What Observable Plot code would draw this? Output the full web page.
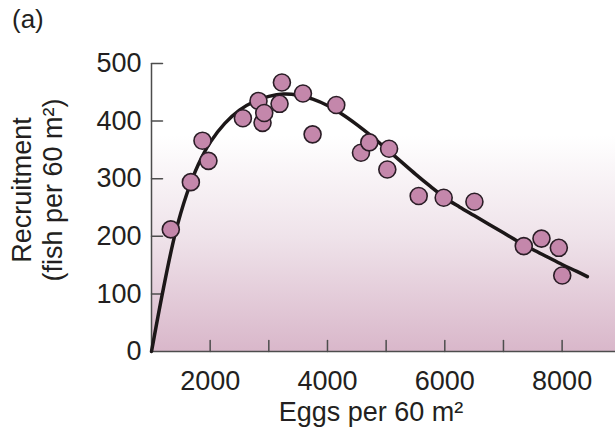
<!DOCTYPE html>
<html><head><meta charset="utf-8">
<script src="https://cdn.jsdelivr.net/npm/d3@7"></script>
<script src="https://cdn.jsdelivr.net/npm/@observablehq/plot@0.6"></script>
<style>
html,body{margin:0;padding:0;background:#fff;}
#wrap{position:relative;width:615px;height:434px;font-family:"Liberation Sans",Arial,sans-serif;color:#231f20;}
.lbl{position:absolute;white-space:nowrap;font-size:27px;line-height:27px;}
#wrap svg{position:absolute;left:0;top:0;}
</style></head><body>
<div id="wrap"></div>
<script>
// Observed data (eggs per 60 m², recruits per 60 m²)
const eggs     = [1329, 1671, 1869, 1971, 2558, 2824, 2893, 2922, 3183, 3223, 3582, 3746, 4150, 4571, 4713, 5050, 5020, 5555, 5981, 6505, 7346, 7648, 7944, 8002];
const recruits = [ 212,  294,  366,  331,  405,  435,  397,  414,  430,  467,  448,  377,  428,  345,  363,  352,  316,  270,  267,  260,  183,  196,  180,  132];
// Fitted curve
const curveEggs     = [1000, 1200, 1400, 1600, 1800, 2000, 2250, 2500, 2750, 3000, 3250, 3500, 3750, 4000, 4250, 4500, 4750, 5000, 5250, 5500, 5750, 6000, 6250, 6500, 6750, 7000, 7250, 7500, 7750, 8000, 8250, 8430];
const curveRecruits = [   0,  108,  203,  273,  325,  363,  396,  419,  434,  443,  447,  445,  438,  427,  412,  394,  374,  352,  330,  308,  287,  267,  251,  236,  221,  206,  191,  177,  164,  151,  139,  130];
const xTicks = [2000, 3000, 4000, 5000, 6000, 7000, 8000];
const xTickLabels = [2000, 4000, 6000, 8000];
const yTicks = [0, 100, 200, 300, 400, 500];
const panelLabel = "(a)";
const xTitle = "Eggs per 60 m²";
const yTitleLines = ["Recruitment", "(fish per 60 m²)"];

const points = eggs.map((e, i) => ({e, r: recruits[i]}));
const curve = curveEggs.map((e, i) => ({e, r: curveRecruits[i]}));

const gradientDefs = () => {
  const defs = d3.create("svg:defs");
  const g = defs.append("linearGradient").attr("id", "bgfade")
    .attr("x1", 0).attr("y1", 0).attr("x2", 0).attr("y2", 1);
  g.append("stop").attr("offset", "0%").attr("stop-color", "#ffffff");
  g.append("stop").attr("offset", "25%").attr("stop-color", "#ffffff");
  g.append("stop").attr("offset", "60%").attr("stop-color", "#efe3ea");
  g.append("stop").attr("offset", "100%").attr("stop-color", "#d9b7ca");
  return defs.node();
};
const tickShape = {draw(context, l) { context.moveTo(0, 0); context.lineTo(0, -l); }};
const axisColor = "#4d4d4d";

const chart = Plot.plot({
  width: 615, height: 434,
  marginTop: 63, marginBottom: 83, marginLeft: 151, marginRight: 0,
  x: {domain: [1000, 8910]},
  y: {domain: [0, 500]},
  style: {fontFamily: "'Liberation Sans', Arial, sans-serif", fontSize: "27px", color: "#231f20", background: "transparent", overflow: "visible"},
  marks: [
    gradientDefs,
    Plot.frame({fill: "url(#bgfade)", stroke: null}),
    Plot.ruleY([0], {stroke: axisColor, strokeWidth: 1.5}),
    Plot.ruleX([1000], {y1: 0, y2: 500, stroke: axisColor, strokeWidth: 1.5}),
    Plot.vector(yTicks.slice(1), {x: 1000, y: d => d, length: 11, rotate: 90, anchor: "start", shape: tickShape, stroke: axisColor, strokeWidth: 1.5}),
    Plot.vector(xTicks, {x: d => d, y: 0, length: 11, rotate: 0, anchor: "start", shape: tickShape, stroke: axisColor, strokeWidth: 1.5}),
    Plot.axisY(yTicks, {tickSize: 0, tickPadding: 10, label: null, fontSize: 27, fill: "#231f20", tickFormat: d => String(d)}),
    Plot.axisX(xTickLabels, {tickSize: 0, tickPadding: 19, label: null, fontSize: 27, fill: "#231f20", tickFormat: d => String(d)}),
    Plot.line(curve, {x: "e", y: "r", curve: "catmull-rom", stroke: "#1c1718", strokeWidth: 3.5}),
    Plot.dot(points, {x: "e", y: "r", r: 8.5, fill: "#c487ab", stroke: "#2a1d26", strokeWidth: 1.6})
  ]
});

const wrap = document.getElementById("wrap");
wrap.appendChild(chart);

const a = document.createElement("div");
a.className = "lbl"; a.textContent = panelLabel;
a.style.left = "12px"; a.style.top = "6px"; a.style.fontSize = "26px";
wrap.appendChild(a);

const xt = document.createElement("div");
xt.className = "lbl"; xt.textContent = xTitle;
xt.style.left = (371 - 150) + "px"; xt.style.width = "300px"; xt.style.textAlign = "center"; xt.style.top = "399px";
wrap.appendChild(xt);

const yt = document.createElement("div");
yt.className = "lbl";
yt.style.width = "300px"; yt.style.height = "62px"; yt.style.lineHeight = "31px"; yt.style.textAlign = "center";
yt.style.left = (38 - 150) + "px"; yt.style.top = (190 - 31) + "px";
yt.style.transform = "rotate(-90deg)";
yt.innerHTML = yTitleLines.map(s => `<div>${s}</div>`).join("");
wrap.appendChild(yt);
</script>
</body></html>
